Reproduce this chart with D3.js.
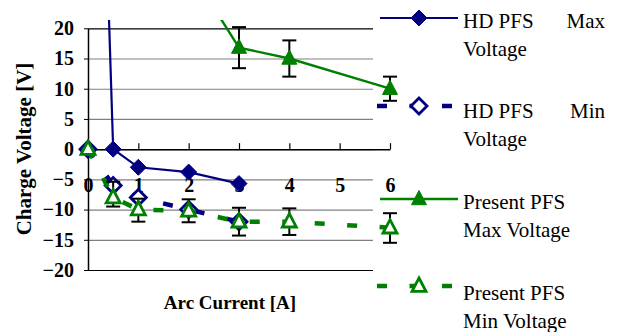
<!DOCTYPE html>
<html>
<head>
<meta charset="utf-8">
<script src="https://cdn.jsdelivr.net/npm/d3@7"></script>
<style>
  html, body { margin: 0; padding: 0; background: #fff; }
  svg { display: block; }
  svg text { font-family: "Liberation Serif", "Times New Roman", serif !important; }
</style>
</head>
<body>
<script>
// ---- data ----
const yTicks = [-20, -15, -10, -5, 0, 5, 10, 15, 20];
const xTicks = [0, 1, 2, 3, 4, 5, 6];

const hdX = [0, 0.5, 1, 2, 3];
const hdMax = [130, 0, -3, -3.8, -5.7];
const hdMin = [0, -6, -8, -10, -12];

const presMaxX = [2, 3, 4, 6];
const presMax = [30, 16.8, 15, 10];
const presMaxErr = [3, 3.4, 3, 2];

const presMinX = [0, 0.5, 1, 2, 3, 4, 6];
const presMin = [0, -8, -10, -10.2, -12, -12, -13];
const presMinErrUp = [0, 2.6, 1.8, 1.9, 2.3, 2.2, 2.4];
const presMinErrDown = [0, 1.5, 2, 1.9, 2.3, 2.2, 2.5];

const legendLabels = [
  ["HD PFS", "Max", "Voltage"],
  ["HD PFS", "Min", "Voltage"],
  ["Present PFS", "", "Max Voltage"],
  ["Present PFS", "", "Min Voltage"]
];

// ---- setup ----
const NAVY = "#000080", GREEN = "#008000";
const FONT = `"Liberation Serif", monospace`;
const svg = d3.select("body").append("svg").attr("width", 623).attr("height", 332)
  .style("font-family", FONT);
const x = d3.scaleLinear().domain([0, 6]).range([88, 390]);
const y = d3.scaleLinear().domain([-20, 20]).range([270, 28.3]);
const gridRight = 373;

function txt(sel, size, bold) {
  return sel.attr("font-family", "Liberation Serif").style("font-family", FONT)
    .style("font-size", size + "px").style("font-weight", bold ? "bold" : "normal").attr("fill", "#000");
}

// gridlines
const grid = svg.append("g").attr("transform", `translate(${x(0)},0)`)
  .call(d3.axisLeft(y).tickValues(yTicks).tickSize(-(gridRight - x(0))).tickFormat(""));
grid.select(".domain").remove();
grid.selectAll(".tick line").attr("stroke", d => (d === 20 || d === -20) ? "#000" : "#808080").attr("stroke-width", 1.2);

// y axis
const yAx = svg.append("g").attr("transform", `translate(${x(0)},0)`)
  .call(d3.axisLeft(y).tickValues(yTicks).tickFormat(d3.format("d")).tickSize(4).tickSizeOuter(0).tickPadding(10));
yAx.attr("font-family", "Liberation Serif");
yAx.select(".domain").attr("stroke", "#000").attr("stroke-width", 1.5);
yAx.selectAll(".tick line").attr("stroke", "#000");
txt(yAx.selectAll("text"), 20, true);

// x axis at y=0
const xAx = svg.append("g").attr("transform", `translate(0,${y(0)})`)
  .call(d3.axisBottom(x).tickValues(xTicks).tickFormat(d3.format("d")).tickSize(-6).tickSizeOuter(0).tickPadding(29));
xAx.attr("font-family", "Liberation Serif");
xAx.select(".domain").attr("stroke", "#000").attr("stroke-width", 1.5);
xAx.selectAll(".tick line").attr("stroke", "#000").attr("stroke-width", 1.2);
txt(xAx.selectAll("text"), 20, true);

// axis titles
txt(svg.append("text").attr("transform", "translate(31,149) rotate(-90)").attr("text-anchor", "middle"), 21, true)
  .text("Charge Voltage [V]");
txt(svg.append("text").attr("x", 230).attr("y", 309).attr("text-anchor", "middle"), 19, true)
  .text("Arc Current [A]");

// clip
svg.append("defs").append("clipPath").attr("id", "clip").append("rect")
  .attr("x", 0).attr("y", 20).attr("width", 623).attr("height", 312);
const plot = svg.append("g").attr("clip-path", "url(#clip)");

const DASH = "10,22.5";
function diamond(g, cx, cy, r, filled, color) {
  g.append("path").attr("d", `M${cx},${cy - r}L${cx + r},${cy}L${cx},${cy + r}L${cx - r},${cy}Z`)
    .attr("fill", filled ? color : "#fff").attr("stroke", color).attr("stroke-width", filled ? 1 : 2.8);
}
function triangle(g, cx, cy, s, filled, color) {
  const h = s * 0.95;
  g.append("path").attr("d", `M${cx},${cy - h * 0.6}L${cx + s / 2},${cy + h * 0.4}L${cx - s / 2},${cy + h * 0.4}Z`)
    .attr("fill", filled ? color : "#fff").attr("stroke", color).attr("stroke-width", filled ? 1 : 2.8)
    .attr("stroke-linejoin", "miter");
}
function errBar(g, xv, lo, hi) {
  const cx = x(xv);
  g.append("line").attr("x1", cx).attr("x2", cx).attr("y1", y(lo)).attr("y2", y(hi)).attr("stroke", "#000").attr("stroke-width", 2);
  [lo, hi].forEach(v => g.append("line").attr("x1", cx - 7).attr("x2", cx + 7).attr("y1", y(v)).attr("y2", y(v)).attr("stroke", "#000").attr("stroke-width", 2));
}

const line = d3.line().x(d => x(d[0])).y(d => y(d[1]));

// HD PFS Max
plot.append("path").datum(hdX.map((v, i) => [v, hdMax[i]])).attr("d", line)
  .attr("fill", "none").attr("stroke", NAVY).attr("stroke-width", 2.2);
hdX.forEach((v, i) => diamond(plot, x(v), y(hdMax[i]), 8, true, NAVY));

// HD PFS Min
plot.append("path").datum(hdX.map((v, i) => [v, hdMin[i]])).attr("d", line)
  .attr("fill", "none").attr("stroke", NAVY).attr("stroke-width", 4.5).attr("stroke-dasharray", DASH);
hdX.forEach((v, i) => diamond(plot, x(v), y(hdMin[i]), 8, false, NAVY));

// Present PFS Max
plot.append("path").datum(presMaxX.map((v, i) => [v, presMax[i]])).attr("d", line)
  .attr("fill", "none").attr("stroke", GREEN).attr("stroke-width", 2.4);
presMaxX.forEach((v, i) => errBar(plot, v, presMax[i] - presMaxErr[i], presMax[i] + presMaxErr[i]));
presMaxX.forEach((v, i) => triangle(plot, x(v), y(presMax[i]), 15, true, GREEN));

// Present PFS Min
plot.append("path").datum(presMinX.map((v, i) => [v, presMin[i]])).attr("d", line)
  .attr("fill", "none").attr("stroke", GREEN).attr("stroke-width", 4.5).attr("stroke-dasharray", DASH);
presMinX.forEach((v, i) => { if (presMinErrUp[i] || presMinErrDown[i]) errBar(plot, v, presMin[i] - presMinErrDown[i], presMin[i] + presMinErrUp[i]); });
presMinX.forEach((v, i) => triangle(plot, x(v), y(presMin[i]), 14, false, GREEN));

// legend
const lg = svg.append("g");
const legY = [18, 106, 199, 286];
const textY = [28, 118, 209, 300];
const styles = [
  { color: NAVY, dash: null, w: 2.2, mk: "d", filled: true },
  { color: NAVY, dash: DASH, w: 4.5, mk: "d", filled: false },
  { color: GREEN, dash: null, w: 2.4, mk: "t", filled: true },
  { color: GREEN, dash: DASH, w: 4.5, mk: "t", filled: false }
];
styles.forEach((s, i) => {
  const ly = legY[i];
  const l = lg.append("line").attr("x1", s.dash ? 377 : 380).attr("x2", s.dash ? 452 : 458)
    .attr("y1", ly).attr("y2", ly).attr("stroke", s.color).attr("stroke-width", s.w);
  if (s.dash) l.attr("stroke-dasharray", DASH);
  if (s.mk === "d") diamond(lg, 419, ly, 8, s.filled, s.color);
  else triangle(lg, 419, ly, s.filled ? 15 : 14, s.filled, s.color);
  const t = legendLabels[i];
  txt(lg.append("text").attr("x", 463).attr("y", textY[i]), 21, false).text(t[0]);
  if (t[1]) txt(lg.append("text").attr("x", 605).attr("y", textY[i]).attr("text-anchor", "end"), 21, false).text(t[1]);
  txt(lg.append("text").attr("x", 463).attr("y", textY[i] + 28), 21, false).text(t[2]);
});
</script>
</body>
</html>
